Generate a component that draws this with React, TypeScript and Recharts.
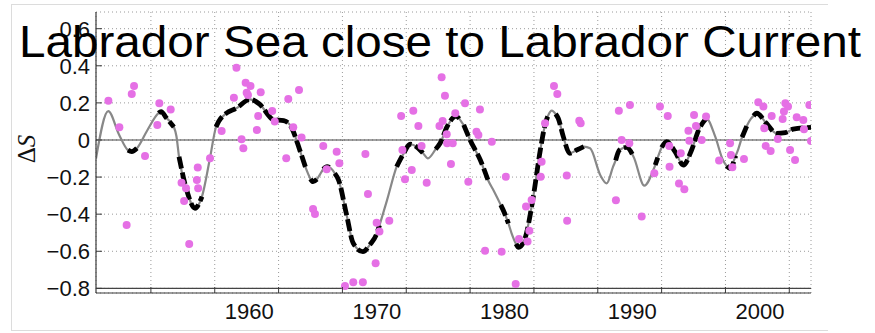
import React from 'react';
import { ComposedChart, Line, Scatter, XAxis, YAxis, CartesianGrid, ReferenceLine } from 'recharts';

// Smoothed curve (year, ΔS) and whether that part is drawn as significant (black dashed)
const curveYears = [
  1948.0, 1948.96, 1949.8, 1950.5, 1950.8, 1951.2, 1952.0, 1952.9, 1953.1, 1953.5,
  1954.1, 1954.3, 1954.5, 1955.1, 1955.75, 1956.3, 1956.9, 1957.4, 1957.6, 1958.2,
  1959.0, 1960.06, 1960.8, 1961.9, 1962.7, 1963.2, 1964.0, 1964.4, 1964.6, 1964.8,
  1965.0, 1965.3, 1965.55, 1965.8, 1966.1, 1966.3, 1966.5, 1966.7, 1967.0, 1967.6,
  1968.15, 1968.9, 1969.5, 1970.0, 1970.2, 1970.8, 1971.55, 1972.1, 1972.6, 1973.25,
  1973.6, 1974.0, 1974.6, 1974.95, 1975.5, 1976.2, 1976.5, 1976.65, 1976.8, 1977.3,
  1978.1, 1978.7, 1979.2, 1979.7, 1980.0, 1980.3, 1980.55, 1980.9, 1981.1, 1981.6,
  1982.25, 1982.8, 1983.2, 1983.4, 1983.7, 1984.0, 1984.2, 1984.6, 1985.1, 1985.65,
  1986.2, 1986.7, 1987.5, 1988.0, 1988.5, 1988.7, 1989.0, 1989.55, 1990.1, 1990.95,
  1991.65, 1991.8, 1992.0, 1992.15, 1992.3, 1992.7, 1993.35, 1994.0, 1994.65, 1995.2,
  1995.8, 1996.5, 1997.1, 1997.4, 1997.65, 1998.1, 1998.3, 1998.6, 1999.0, 1999.3,
  1999.5, 1999.75, 2000.5, 2001.3, 2002.0, 2002.6, 2004.0,
];
const curveValues = [
  -0.10, 0.156, 0.03, -0.055, -0.063, -0.045, 0.05, 0.145, 0.153, 0.12,
  0.07, 0.02, -0.09, -0.27, -0.368, -0.305, -0.108, 0.07, 0.099, 0.144,
  0.171, 0.219, 0.194, 0.11, 0.104, 0.081, -0.063, -0.145, -0.18, -0.21,
  -0.225, -0.212, -0.185, -0.158, -0.144, -0.148, -0.16, -0.18, -0.216, -0.395,
  -0.557, -0.602, -0.56, -0.503, -0.46, -0.323, -0.144, -0.072, -0.023, -0.045,
  -0.07, -0.099, -0.05, -0.018, 0.072, 0.129, 0.11, 0.095, 0.081, 0.0,
  -0.108, -0.216, -0.28, -0.35, -0.395, -0.45, -0.503, -0.56, -0.579, -0.53,
  -0.305, -0.054, 0.09, 0.13, 0.158, 0.14, 0.117, 0.018, -0.072, -0.054,
  -0.036, -0.045, -0.19, -0.234, -0.144, -0.11, -0.054, -0.04, -0.09, -0.246,
  -0.162, -0.135, -0.095, -0.065, -0.04, -0.009, -0.063, -0.135, -0.054, 0.054,
  0.117, 0.018, -0.108, -0.14, -0.153, -0.085, -0.05, 0.015, 0.08, 0.115,
  0.13, 0.144, 0.09, 0.036, 0.04, 0.058, 0.068,
];
const curveSignificant = [
  0, 0, 0, 1, 1, 1, 0, 1, 1, 1,
  1, 0, 1, 1, 1, 1, 0, 1, 1, 1,
  1, 1, 1, 1, 1, 1, 1, 1, 0, 1,
  1, 1, 0, 1, 1, 1, 0, 1, 1, 1,
  1, 1, 1, 1, 1, 0, 1, 1, 1, 1,
  1, 0, 1, 1, 1, 1, 1, 0, 1, 1,
  1, 1, 0, 1, 1, 1, 0, 1, 1, 1,
  1, 1, 1, 1, 0, 1, 1, 1, 1, 1,
  1, 0, 0, 0, 0, 1, 1, 1, 1, 0,
  0, 1, 1, 0, 1, 1, 1, 1, 1, 1,
  1, 0, 0, 1, 1, 1, 0, 1, 1, 0,
  1, 1, 1, 1, 1, 1, 1,
];

// Individual observations (magenta dots)
const dotYears = [
  1948.97, 1949.83, 1950.4, 1950.8, 1950.98, 1951.84, 1952.8, 1952.96, 1953.85, 1954.7,
  1954.9, 1955.05, 1955.3, 1955.9, 1955.97, 1956.0, 1956.93, 1957.84, 1958.8, 1959.0,
  1959.4, 1959.54, 1959.72, 1959.8, 1959.9, 1960.1, 1960.6, 1960.7, 1960.9, 1961.8,
  1962.0, 1962.9, 1963.06, 1963.45, 1963.9, 1964.1, 1965.0, 1965.15, 1965.8, 1966.07,
  1966.85, 1967.06, 1967.5, 1968.15, 1968.9, 1969.1, 1969.3, 1969.9, 1969.98, 1970.2,
  1970.97, 1971.9, 1972.0, 1972.2, 1972.73, 1972.85, 1973.25, 1973.5, 1973.9, 1974.9,
  1975.07, 1975.15, 1975.33, 1975.47, 1975.5, 1975.8, 1975.94, 1976.14, 1976.9, 1977.16,
  1977.8, 1977.95, 1978.07, 1978.47, 1979.0, 1979.77, 1980.1, 1980.87, 1981.13, 1981.68,
  1981.8, 1981.94, 1982.12, 1982.83, 1982.9, 1983.17, 1983.87, 1984.13, 1984.87, 1984.9,
  1985.85, 1985.96, 1988.72, 1988.95, 1989.17, 1989.77, 1989.82, 1990.74, 1991.73, 1992.17,
  1992.78, 1992.9, 1992.92, 1993.66, 1993.8, 1994.08, 1994.4, 1994.47, 1994.84, 1994.99,
  1995.44, 1995.78, 1996.8, 1997.66, 1997.73, 1997.84, 1998.75, 1999.87, 2000.27, 2000.34,
  2000.45, 2000.84, 2000.92, 2001.4, 2001.78, 2001.88, 2001.99, 2002.2, 2002.36, 2002.75,
  2002.88, 2003.4, 2003.45, 2003.87, 2004.0,
];
const dotValues = [
  0.212, 0.068, -0.458, 0.248, 0.291, -0.086, 0.081, 0.198, 0.165, -0.23,
  -0.329, -0.26, -0.561, -0.216, -0.149, -0.26, -0.099, 0.049, 0.228, 0.39,
  0.004, -0.045, 0.309, 0.255, 0.243, 0.291, 0.054, 0.129, 0.257, 0.156,
  0.099, -0.099, 0.221, 0.068, 0.27, 0.013, -0.372, -0.399, -0.032, -0.158,
  -0.063, -0.126, -0.787, -0.767, -0.767, -0.075, -0.291, -0.665, -0.446, -0.494,
  -0.435, 0.129, -0.054, -0.212, -0.162, 0.158, 0.075, -0.032, -0.23, 0.075,
  0.338, 0.102, 0.239, 0.031, -0.018, -0.129, -0.018, 0.144, 0.198, -0.225,
  0.045, 0.027, 0.165, -0.597, -0.009, -0.602, -0.198, -0.776, -0.534, -0.359,
  -0.548, -0.489, -0.323, -0.198, -0.117, 0.09, 0.291, 0.248, -0.192, -0.435,
  0.104, 0.09, -0.325, 0.157, 0.0, -0.018, 0.189, -0.413, -0.18, 0.18,
  0.129, -0.032, -0.144, -0.234, -0.072, -0.266, 0.05, -0.004, 0.135, 0.075,
  0.0, 0.126, -0.111, -0.018, -0.081, -0.147, -0.102, 0.203, 0.18, 0.063,
  -0.032, -0.059, 0.129, 0.005, 0.113, 0.153, 0.198, 0.18, -0.054, -0.108,
  0.122, 0.108, 0.058, 0.189, -0.005,
];

const labelYears = [1960, 1970, 1980, 1990, 2000];
const gridYears = [1952.3, 1957.3, 1962.3, 1967.3, 1972.3, 1977.3, 1982.3, 1987.3, 1992.3, 1997.3, 2002.3];
const yTicks = [-0.8, -0.6, -0.4, -0.2, 0, 0.2, 0.4, 0.6];
const xDomain: [number, number] = [1948, 2004];
const yDomain: [number, number] = [-0.825, 0.69];
const titleText = 'Labrador Sea close to Labrador Current';

const curveData = curveYears.map((year, i) => ({ year, v: curveValues[i] }));
const sigData = curveYears.map((year, i) => ({ year, v: curveSignificant[i] ? curveValues[i] : null }));
const dotData = dotYears.map((year, i) => ({ year, v: dotValues[i] }));
const bottomTicks = [...gridYears, ...labelYears].sort((a, b) => a - b);

const FONT = "'Liberation Sans', Arial, Helvetica, sans-serif";
const FRAME = '#3a3a3a';

const fmtY = (v: number) => (v === 0 ? '0' : v < 0 ? '\u2212' + Math.abs(v).toFixed(1) : v.toFixed(1));

const LeftTick = (props: any) => {
  const { x, y, payload } = props;
  return (
    <g>
      <text x={x} y={y + 8} textAnchor="end" fontSize={22} fontFamily={FONT} fill="#111">
        {fmtY(payload.value)}
      </text>
      <line x1={x + 6} x2={x + 12} y1={y} y2={y} stroke={FRAME} strokeWidth={1} />
    </g>
  );
};

const RightTick = (props: any) => {
  const { x, y } = props;
  return <line x1={x - 6} x2={x} y1={y} y2={y} stroke={FRAME} strokeWidth={1} />;
};

const TopTick = (props: any) => {
  const { x, y } = props;
  return <line x1={x} x2={x} y1={y} y2={y + 6} stroke={FRAME} strokeWidth={1} />;
};

const BottomTick = (props: any) => {
  const { x, y, payload } = props;
  if (labelYears.includes(payload.value)) {
    return (
      <text x={x} y={y + 26} textAnchor="middle" fontSize={22} fontFamily={FONT} fill="#111">
        {payload.value}
      </text>
    );
  }
  return <line x1={x} x2={x} y1={y} y2={y - 6} stroke={FRAME} strokeWidth={1} />;
};

export default function App() {
  return (
    <div style={{ position: 'relative', width: 875, height: 333, background: '#fff' }}>
      <style>{`body{margin:0;background:#fff}`}</style>
      <ComposedChart
        width={875}
        height={333}
        margin={{ top: 12, right: 64, bottom: 0, left: 0 }}
      >
        <CartesianGrid
          xAxisId="grid"
          yAxisId="y"
          stroke="#9a9a9a"
          strokeDasharray="1 3"
          strokeWidth={1}
        />
        <XAxis
          xAxisId="x"
          dataKey="year"
          type="number"
          domain={xDomain}
          allowDataOverflow
          ticks={bottomTicks}
          interval={0}
          tickSize={0}
          tickMargin={0}
          tick={<BottomTick />}
          height={40}
          axisLine={{ stroke: FRAME, strokeWidth: 1.2 }}
          tickLine={false}
        />
        <XAxis
          xAxisId="grid"
          orientation="top"
          dataKey="year"
          type="number"
          domain={xDomain}
          allowDataOverflow
          ticks={gridYears}
          interval={0}
          tickSize={0}
          tickMargin={0}
          tick={<TopTick />}
          height={0}
          axisLine={{ stroke: FRAME, strokeWidth: 1.2 }}
          tickLine={false}
        />
        <YAxis
          yAxisId="y"
          type="number"
          domain={yDomain}
          allowDataOverflow
          ticks={yTicks}
          interval={0}
          tickSize={0}
          tickMargin={6}
          tick={<LeftTick />}
          width={96}
          axisLine={{ stroke: FRAME, strokeWidth: 1.2 }}
          tickLine={false}
        />
        <YAxis
          yAxisId="r"
          orientation="right"
          type="number"
          domain={yDomain}
          allowDataOverflow
          ticks={yTicks}
          interval={0}
          tickSize={0}
          tickMargin={0}
          tick={<RightTick />}
          width={0}
          axisLine={{ stroke: FRAME, strokeWidth: 1.2 }}
          tickLine={false}
        />
        <ReferenceLine xAxisId="x" yAxisId="y" y={0} stroke="#444" strokeWidth={1.2} />
        <ReferenceLine xAxisId="x" yAxisId="y" y={-0.8} stroke="#444" strokeWidth={1.2} />
        <Scatter
          xAxisId="x"
          yAxisId="y"
          data={dotData}
          dataKey="v"
          fill="#e570e5"
          isAnimationActive={false}
          shape={(p: any) => <circle cx={p.cx} cy={p.cy} r={4} fill="#e570e5" />}
        />
        <Line
          xAxisId="x"
          yAxisId="y"
          data={curveData}
          dataKey="v"
          type="monotone"
          stroke="#888"
          strokeWidth={2.2}
          dot={false}
          activeDot={false}
          isAnimationActive={false}
        />
        <Line
          xAxisId="x"
          yAxisId="y"
          data={sigData}
          dataKey="v"
          type="monotone"
          stroke="#000"
          strokeWidth={4.8}
          strokeDasharray="12 4"
          dot={false}
          activeDot={false}
          connectNulls={false}
          isAnimationActive={false}
        />
      </ComposedChart>
      <svg
        width={875}
        height={333}
        style={{ position: 'absolute', left: 0, top: 0, pointerEvents: 'none' }}
      >
        <line x1={11} x2={828} y1={4.5} y2={4.5} stroke="#dcdcdc" strokeWidth={1} />
        <line x1={11.5} x2={11.5} y1={4} y2={330} stroke="#dcdcdc" strokeWidth={1} />
        <line x1={11} x2={828} y1={330.5} y2={330.5} stroke="#dcdcdc" strokeWidth={1} />
        <text
          x={19}
          y={57}
          fontSize={45}
          fontFamily={FONT}
          fill="#000"
          textLength={842}
          lengthAdjust="spacingAndGlyphs"
        >
          {titleText}
        </text>
        <text
          transform="translate(35,149) rotate(-90)"
          textAnchor="middle"
          fontSize={25}
          fontFamily="'Liberation Serif', 'Times New Roman', serif"
          fill="#111"
        >
          {'\u0394'}
          <tspan fontStyle="italic">S</tspan>
        </text>
      </svg>
    </div>
  );
}
